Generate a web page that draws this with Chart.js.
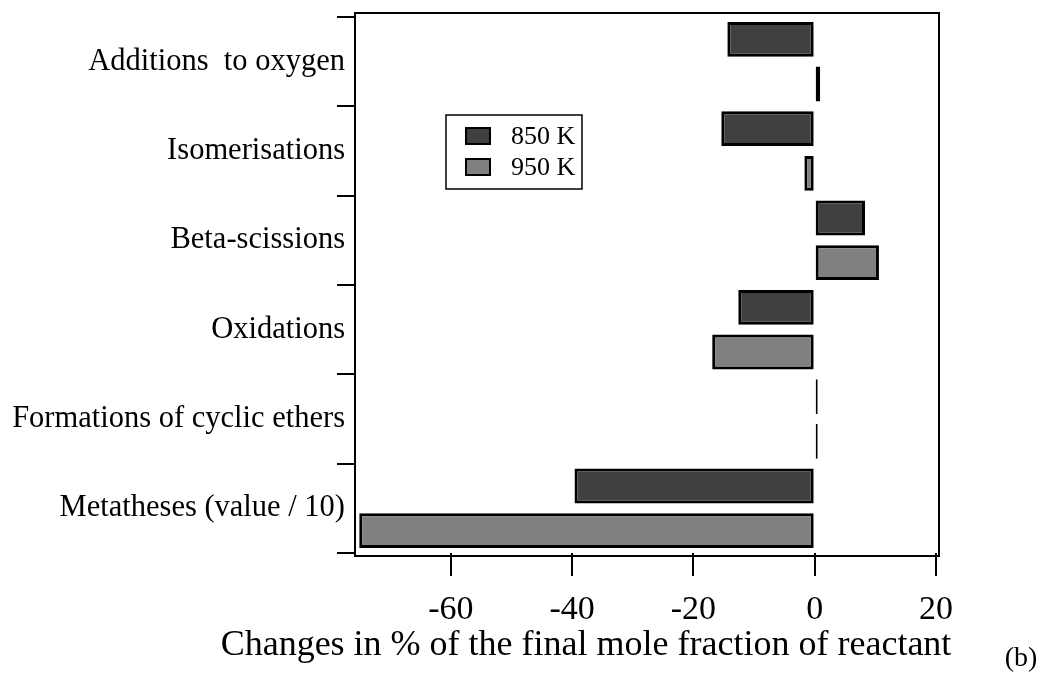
<!DOCTYPE html>
<html>
<head>
<meta charset="utf-8">
<title>Changes in % of the final mole fraction of reactant</title>
<script src="https://cdn.jsdelivr.net/npm/chart.js@4.4.1/dist/chart.umd.min.js"></script>
<style>
    html, body { margin: 0; padding: 0; background: #fff; }
    #wrap { width: 1060px; height: 680px; position: relative; }
</style>
</head>
<body>
<div id="wrap"><canvas id="reactionChart" width="1060" height="680"></canvas></div>
<script>
// reaction classes (top to bottom)
const categories = [
    'Additions  to oxygen',
    'Isomerisations',
    'Beta-scissions',
    'Oxidations',
    'Formations of cyclic ethers',
    'Metatheses (value / 10)'
];

// changes in %
const values850K = [-14.4, -15.4, 8.3, -12.6, 0.5, -39.6];
const values950K = [0.9, -1.7, 10.6, -16.9, 0.5, -75.1];

const seriesNames = ['850 K', '950 K'];
const xTicks = [-60, -40, -20, 0, 20];

const serif = '"Liberation Serif", "Times New Roman", serif';

// frame, legend box and axis caption drawn on top of the chart
const framePlugin = {
    id: 'framePlugin',
    afterDraw(chart) {
        const ctx = chart.ctx;
        const area = chart.chartArea;
        ctx.save();
        ctx.strokeStyle = '#000';
        ctx.lineWidth = 2;
        ctx.strokeRect(area.left, area.top - 4, area.right - area.left, area.bottom - area.top + 7);

        // legend
        ctx.fillStyle = '#fff';
        ctx.fillRect(446, 115, 136, 74);
        ctx.lineWidth = 1.5;
        ctx.strokeRect(446, 115, 136, 74);
        chart.data.datasets.forEach((ds, i) => {
            const y = 128 + i * 31;
            ctx.fillStyle = ds.backgroundColor;
            ctx.fillRect(466, y, 24, 16);
            ctx.lineWidth = 2;
            ctx.strokeRect(466, y, 24, 16);
            ctx.fillStyle = '#000';
            ctx.font = '26px ' + serif;
            ctx.textBaseline = 'middle';
            ctx.textAlign = 'left';
            ctx.fillText(ds.label, 511, y + 9);
        });

        // axis caption and panel tag
        ctx.fillStyle = '#000';
        ctx.textAlign = 'center';
        ctx.textBaseline = 'middle';
        ctx.font = '36px ' + serif;
        ctx.fillText('Changes in % of the final mole fraction of reactant', 586, 646);
        ctx.font = '28px ' + serif;
        ctx.fillText('(b)', 1021, 659);
        ctx.restore();
    }
};

const chartCanvas = document.getElementById('reactionChart');

new Chart(chartCanvas.getContext('2d'), {
    type: 'bar',
    data: {
        labels: categories,
        datasets: [{
            label: seriesNames[0],
            data: values850K,
            backgroundColor: '#404040',
            borderColor: '#000',
            borderWidth: 3,
            borderSkipped: false
        }, {
            label: seriesNames[1],
            data: values950K,
            backgroundColor: '#808080',
            borderColor: '#000',
            borderWidth: 3,
            borderSkipped: false
        }]
    },
    options: {
        indexAxis: 'y',
        responsive: false,
        animation: false,
        barPercentage: 0.78,
        categoryPercentage: 1.0,
        layout: {
            padding: { left: 0, top: 17, right: 121, bottom: 0 }
        },
        plugins: {
            legend: { display: false },
            tooltip: { enabled: false }
        },
        scales: {
            x: {
                type: 'linear',
                min: -75.8,
                max: 20.5,
                afterFit: function(scale) {
                    scale.height = 127;
                },
                afterBuildTicks: function(scale) {
                    scale.ticks = xTicks.map(v => ({ value: v }));
                },
                border: { display: false },
                grid: {
                    drawOnChartArea: false,
                    drawTicks: true,
                    tickLength: 23,
                    color: '#000',
                    lineWidth: 2
                },
                ticks: {
                    color: '#000',
                    padding: 14,
                    maxRotation: 0,
                    font: { family: serif, size: 34 }
                }
            },
            y: {
                afterFit: function(scale) {
                    scale.width = 355;
                },
                border: { display: true, color: '#000', width: 2 },
                grid: {
                    offset: true,
                    drawOnChartArea: false,
                    drawTicks: true,
                    tickLength: 18,
                    color: '#000',
                    lineWidth: 2
                },
                ticks: {
                    color: '#000',
                    padding: -8,
                    autoSkip: false,
                    font: { family: serif, size: 30.5 }
                }
            }
        }
    },
    plugins: [framePlugin]
});
</script>
</body>
</html>
